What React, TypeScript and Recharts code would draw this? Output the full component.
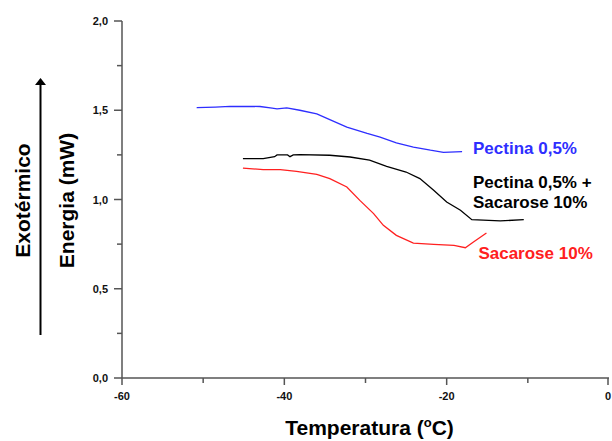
import { Label, Line, LineChart, ReferenceDot, XAxis, YAxis } from 'recharts';

// DSC curves: temperature (ºC) vs energy (mW)
const pectinaT = [-50.8, -48.5, -46.7, -43.0, -41.5, -40.9, -39.7, -38.1, -36.0, -34.4, -32.3, -29.8, -28.2, -26.2, -24.1, -22.0, -20.4, -18.1];
const pectinaE = [1.515, 1.518, 1.522, 1.521, 1.512, 1.508, 1.513, 1.5, 1.48, 1.448, 1.405, 1.37, 1.35, 1.317, 1.294, 1.276, 1.264, 1.268];

const misturaT = [-45.1, -42.6, -41.2, -40.9, -39.6, -39.3, -38.9, -38.1, -34.4, -31.9, -29.5, -27.4, -25.0, -23.3, -21.6, -20.0, -18.3, -16.9, -13.4, -10.5];
const misturaE = [1.229, 1.229, 1.24, 1.25, 1.25, 1.24, 1.25, 1.251, 1.248, 1.238, 1.22, 1.186, 1.154, 1.117, 1.052, 0.986, 0.94, 0.887, 0.88, 0.887];

const sacaroseT = [-45.1, -42.6, -40.5, -38.5, -36.0, -34.4, -32.3, -30.7, -29.0, -27.8, -26.2, -24.1, -21.6, -19.1, -17.7, -16.7, -15.1];
const sacaroseE = [1.176, 1.167, 1.167, 1.158, 1.141, 1.117, 1.07, 0.995, 0.921, 0.855, 0.799, 0.756, 0.749, 0.743, 0.73, 0.762, 0.812];

const X_TICKS = [-60, -50, -40, -30, -20, -10, 0];
const X_MAJOR = [-60, -40, -20, 0];
const Y_TICKS = [0, 0.25, 0.5, 0.75, 1, 1.25, 1.5, 1.75, 2];
const Y_MAJOR = [0, 0.5, 1, 1.5, 2];

const FONT = '"Liberation Sans", Arial, sans-serif';
const AXIS = '#555';
const BLUE = '#2e2eff';
const BLACK = '#000000';
const RED = '#ff2020';

const toPoints = (t: number[], e: number[]) => t.map((v, i) => ({ t: v, e: e[i] }));
const pectina = toPoints(pectinaT, pectinaE);
const mistura = toPoints(misturaT, misturaE);
const sacarose = toPoints(sacaroseT, sacaroseE);

const fmt = (v: number) => v.toFixed(1).replace('.', ',');

function YTick({ x, y, payload }: any) {
  const major = Y_MAJOR.includes(payload.value);
  return (
    <g>
      <line x1={x} x2={x - (major ? 8 : 5)} y1={y} y2={y} stroke={AXIS} strokeWidth={1.5} />
      {major && (
        <text x={x - 14} y={y} dy={4} textAnchor="end" fontFamily={FONT} fontWeight="bold" fontSize={11} fill="#111">
          {fmt(payload.value)}
        </text>
      )}
    </g>
  );
}

function XTick({ x, y, payload }: any) {
  const major = X_MAJOR.includes(payload.value);
  return (
    <g>
      <line x1={x} x2={x} y1={y} y2={y + (major ? 7 : 5)} stroke={AXIS} strokeWidth={1.5} />
      {major && (
        <text x={x} y={y + 22} textAnchor="middle" fontFamily={FONT} fontWeight="bold" fontSize={11} fill="#111">
          {payload.value}
        </text>
      )}
    </g>
  );
}

const noteLabel = (lines: string[], color: string) => ({ viewBox }: any) => (
  <text x={viewBox.x} y={viewBox.y} fontFamily={FONT} fontWeight="bold" fontSize={17} fill={color}>
    {lines.map((l, i) => (
      <tspan key={i} x={viewBox.x} dy={i === 0 ? 0 : 20}>
        {l}
      </tspan>
    ))}
  </text>
);

export default function App() {
  return (
    <div style={{ position: 'absolute', left: 0, top: 0, width: 612, height: 441, background: '#fff' }}>
      <LineChart width={612} height={441} margin={{ top: 21, right: 3, bottom: 0, left: 0 }}>
        <XAxis
          type="number"
          dataKey="t"
          domain={[-60, 0]}
          ticks={X_TICKS}
          height={63}
          tickSize={0}
          tickMargin={0}
          tick={XTick}
          axisLine={{ stroke: AXIS, strokeWidth: 1.5 }}
          allowDataOverflow
        >
          <Label
            content={({ viewBox }: any) => (
              <text
                x={viewBox.x + viewBox.width / 2 + 4}
                y={viewBox.y + 57}
                textAnchor="middle"
                fontFamily={FONT}
                fontWeight="bold"
                fontSize={21}
                fill="#000"
              >
                Temperatura (
                <tspan fontSize={13} dy={-8}>o</tspan>
                <tspan dy={8}>C)</tspan>
              </text>
            )}
          />
        </XAxis>
        <YAxis
          type="number"
          dataKey="e"
          domain={[0, 2]}
          ticks={Y_TICKS}
          width={122}
          tickSize={0}
          tickMargin={0}
          tick={YTick}
          axisLine={{ stroke: AXIS, strokeWidth: 1.5 }}
          allowDataOverflow
        >
          <Label
            content={({ viewBox }: any) => {
              const cy = viewBox.y + viewBox.height / 2 + 1;
              return (
                <g fontFamily={FONT} fontWeight="bold" fontSize={21} fill="#000">
                  <text x={74} y={cy} textAnchor="middle" transform={`rotate(-90, 74, ${cy})`}>
                    Energia (mW)
                  </text>
                  <text x={30} y={cy} textAnchor="middle" transform={`rotate(-90, 30, ${cy})`}>
                    Exotérmico
                  </text>
                  <line x1={40.5} x2={40.5} y1={335} y2={83} stroke="#000" strokeWidth={2} />
                  <path d="M40.5,78 L46,85 L35,85 Z" fill="#000" />
                </g>
              );
            }}
          />
        </YAxis>
        <Line data={pectina} dataKey="e" type="linear" stroke={BLUE} strokeWidth={1.3} dot={false} isAnimationActive={false} />
        <Line data={mistura} dataKey="e" type="linear" stroke={BLACK} strokeWidth={1.3} dot={false} isAnimationActive={false} />
        <Line data={sacarose} dataKey="e" type="linear" stroke={RED} strokeWidth={1.3} dot={false} isAnimationActive={false} />
        <ReferenceDot x={-16.75} y={1.253} r={0} stroke="none" fill="none" label={noteLabel(['Pectina 0,5%'], BLUE)} />
        <ReferenceDot
          x={-16.75}
          y={1.067}
          r={0}
          stroke="none"
          fill="none"
          label={noteLabel(['Pectina 0,5% +', 'Sacarose 10%'], BLACK)}
        />
        <ReferenceDot x={-16.09} y={0.669} r={0} stroke="none" fill="none" label={noteLabel(['Sacarose 10%'], RED)} />
      </LineChart>
    </div>
  );
}
